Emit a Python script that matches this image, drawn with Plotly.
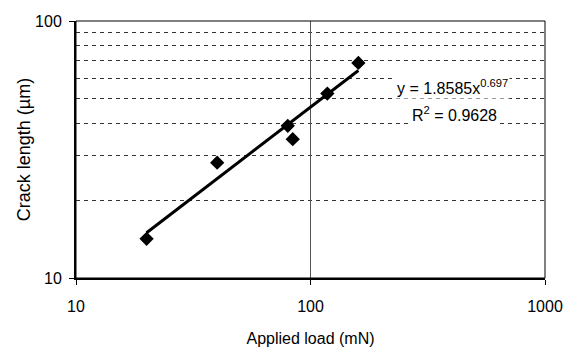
import plotly.graph_objects as go

# Data
load_mN = [20, 40, 80, 84, 118, 160]
crack_um = [14.2, 28.1, 39.1, 34.7, 52.2, 68.7]

# Power-law trendline endpoints (y = 1.8585 x^0.697)
trend_x = [20, 160]
trend_y = [15.0, 64.2]

x_ticks = [10, 100, 1000]
y_ticks = [10, 100]
eq_text = "y = 1.8585x<sup>0.697</sup>"
r2_text = "R<sup>2</sup> = 0.9628"

FONT = "Liberation Sans, Arial, sans-serif"

fig = go.Figure()
fig.add_trace(go.Scatter(x=trend_x, y=trend_y, mode="lines",
                         line=dict(color="black", width=3), showlegend=False))
fig.add_trace(go.Scatter(x=load_mN, y=crack_um, mode="markers",
                         marker=dict(symbol="diamond", size=11, color="black"),
                         showlegend=False))

fig.update_layout(
    width=567, height=350,
    margin=dict(l=76, r=22, t=21, b=72),
    paper_bgcolor="white", plot_bgcolor="white",
    font=dict(family=FONT, size=16, color="black"),
    xaxis=dict(
        type="log", range=[1, 3], automargin=False,
        tickvals=x_ticks, ticktext=[str(v) for v in x_ticks],
        ticks="outside", ticklen=5, tickcolor="black",
        ticklabelstandoff=8,
        showline=True, linecolor="black", linewidth=2,
        showgrid=True, gridcolor="#555", gridwidth=1,
        zeroline=False,
        title=dict(text="Applied load (mN)", standoff=19,
                   font=dict(family=FONT, size=16)),
        tickfont=dict(family=FONT, size=16),
    ),
    yaxis=dict(
        type="log", range=[1, 2], automargin=False,
        tickvals=y_ticks, ticktext=[str(v) for v in y_ticks],
        ticks="outside", ticklen=5, tickcolor="black",
        ticklabelstandoff=4,
        showline=True, linecolor="black", linewidth=2,
        showgrid=False, zeroline=False,
        minor=dict(dtick="D1", showgrid=True, gridcolor="#333",
                   griddash="4px,4px", gridwidth=1, ticks=""),
        title=dict(text="Crack length (µm)", standoff=0,
                   font=dict(family=FONT, size=18)),
        tickfont=dict(family=FONT, size=16),
    ),
    shapes=[dict(type="rect", xref="x domain", yref="y domain",
                 x0=0, x1=1, y0=0, y1=1,
                 line=dict(color="black", width=1), layer="above")],
    annotations=[
        dict(text=eq_text, xref="x domain", yref="y domain", x=0.802, y=0.745,
             xanchor="center", yanchor="middle",
             showarrow=False, font=dict(family=FONT, size=16),
             bgcolor="white"),
        dict(text=r2_text, xref="x domain", yref="y domain", x=0.806, y=0.64,
             xanchor="center", yanchor="middle",
             showarrow=False, font=dict(family=FONT, size=16),
             bgcolor="white"),
    ],
)

fig.write_html("out.html")
